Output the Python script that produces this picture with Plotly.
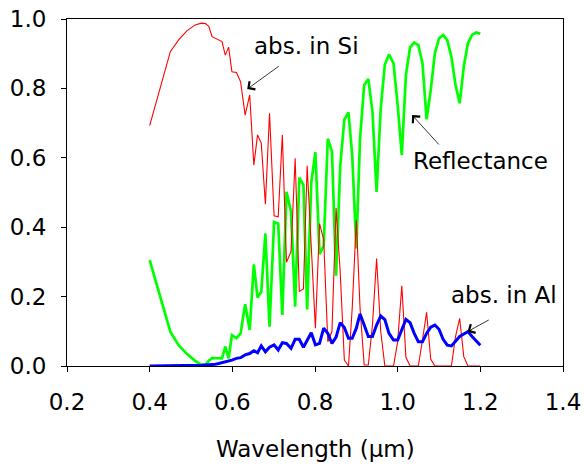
import plotly.graph_objects as go

# Wavelength sampling (µm)
wavelength = [0.400, 0.450, 0.470, 0.490, 0.510, 0.525, 0.535, 0.543, 0.551, 0.559,
              0.567, 0.575, 0.583, 0.591, 0.599, 0.610, 0.620, 0.631, 0.642, 0.652,
              0.661, 0.670, 0.680, 0.690, 0.701, 0.711, 0.721, 0.731, 0.742, 0.752,
              0.762, 0.772, 0.781, 0.791, 0.801, 0.811, 0.821, 0.831, 0.841, 0.851,
              0.861, 0.871, 0.881, 0.890, 0.900, 0.909, 0.919, 0.929, 0.939, 0.949,
              0.959, 0.969, 0.979, 0.990, 1.000, 1.010, 1.020, 1.030, 1.040, 1.050,
              1.060, 1.070, 1.080, 1.090, 1.100, 1.110, 1.120, 1.130, 1.140, 1.150,
              1.160, 1.170, 1.180, 1.190, 1.200]

# Absorption in the Si layer
abs_si = [0.693, 0.906, 0.940, 0.966, 0.983, 0.988, 0.987, 0.979, 0.949, 0.945,
          0.941, 0.935, 0.896, 0.919, 0.848, 0.846, 0.819, 0.723, 0.781, 0.579,
          0.666, 0.642, 0.466, 0.728, 0.433, 0.430, 0.666, 0.299, 0.330, 0.599,
          0.215, 0.222, 0.577, 0.360, 0.109, 0.410, 0.365, 0.070, 0.100, 0.455,
          0.270, 0.017, 0.000, 0.166, 0.420, 0.166, 0.003, 0.003, 0.118, 0.310,
          0.100, 0.000, 0.000, 0.000, 0.070, 0.231, 0.025, 0.000, 0.000, 0.000,
          0.075, 0.155, 0.020, 0.000, 0.000, 0.000, 0.000, 0.000, 0.085, 0.137,
          0.027, 0.000, 0.000, 0.000, 0.000]

# Reflectance
reflectance = [0.305, 0.099, 0.060, 0.035, 0.015, 0.003, 0.003, 0.015, 0.023, 0.022,
               0.022, 0.022, 0.056, 0.022, 0.089, 0.080, 0.094, 0.178, 0.104, 0.293,
               0.197, 0.214, 0.382, 0.113, 0.415, 0.410, 0.147, 0.502, 0.445, 0.171,
               0.543, 0.522, 0.163, 0.529, 0.616, 0.322, 0.346, 0.655, 0.618, 0.260,
               0.576, 0.710, 0.731, 0.608, 0.339, 0.656, 0.810, 0.827, 0.733, 0.502,
               0.742, 0.869, 0.898, 0.872, 0.752, 0.608, 0.839, 0.918, 0.932, 0.925,
               0.872, 0.711, 0.795, 0.901, 0.944, 0.954, 0.939, 0.891, 0.810, 0.757,
               0.863, 0.930, 0.954, 0.961, 0.958]

# Absorption in the Al layer
abs_al = [0.000, 0.000, 0.001, 0.002, 0.002, 0.002, 0.003, 0.003, 0.004, 0.005,
          0.007, 0.009, 0.011, 0.014, 0.017, 0.022, 0.024, 0.032, 0.036, 0.044,
          0.038, 0.058, 0.041, 0.054, 0.061, 0.046, 0.067, 0.065, 0.051, 0.077,
          0.077, 0.054, 0.075, 0.096, 0.061, 0.065, 0.109, 0.094, 0.065, 0.083,
          0.125, 0.111, 0.080, 0.080, 0.109, 0.150, 0.118, 0.085, 0.085, 0.118,
          0.144, 0.134, 0.094, 0.075, 0.075, 0.104, 0.134, 0.125, 0.094, 0.070,
          0.070, 0.094, 0.112, 0.118, 0.106, 0.077, 0.060, 0.058, 0.070, 0.085,
          0.092, 0.099, 0.085, 0.072, 0.060]

x_ticks = [0.2, 0.4, 0.6, 0.8, 1.0, 1.2, 1.4]
y_ticks = [0.0, 0.2, 0.4, 0.6, 0.8, 1.0]

FONT = "DejaVu Sans"
FS = 23

fig = go.Figure()
fig.add_trace(go.Scatter(x=wavelength, y=reflectance, mode="lines",
                         line=dict(color="#00ff00", width=2.7), name="Reflectance"))
fig.add_trace(go.Scatter(x=wavelength, y=abs_si, mode="lines",
                         line=dict(color="#ff0000", width=1.1), name="abs. in Si"))
fig.add_trace(go.Scatter(x=wavelength, y=abs_al, mode="lines",
                         line=dict(color="#0000ff", width=3), name="abs. in Al"))

# Curve labels
labels = [
    dict(text="abs. in Si", x=0.779, y=0.922),
    dict(text="Reflectance", x=1.200, y=0.591),
    dict(text="abs. in Al", x=1.258, y=0.205),
]
for lab in labels:
    fig.add_annotation(x=lab["x"], y=lab["y"], xref="x", yref="y", text=lab["text"],
                       showarrow=False, font=dict(family=FONT, size=FS, color="black"),
                       xanchor="center", yanchor="middle")

# Pointer arrows: (tip_x, tip_y, tail_x, tail_y)
arrows = [
    (0.636, 0.798, 0.716, 0.867),
    (1.035, 0.723, 1.103, 0.634),
    (1.169, 0.099, 1.224, 0.135),
]
for tx, ty, sx, sy in arrows:
    fig.add_annotation(x=tx, y=ty, ax=sx, ay=sy, xref="x", yref="y", axref="x", ayref="y",
                       text="", showarrow=True, arrowhead=4, arrowsize=2.4,
                       arrowwidth=0.8, arrowcolor="black")

# x-axis title, placed below the tick labels
fig.add_annotation(x=0.5, y=-0.24, xref="paper", yref="paper", text="Wavelength (µm)",
                   showarrow=False, font=dict(family=FONT, size=FS, color="black"),
                   xanchor="center", yanchor="middle")

fig.update_layout(
    width=584, height=466,
    margin=dict(l=67, r=21, t=19, b=100),
    paper_bgcolor="white", plot_bgcolor="white",
    showlegend=False,
    font=dict(family=FONT, size=FS, color="black"),
)
fig.update_xaxes(
    range=[0.2, 1.4], tickvals=x_ticks, ticktext=[f"{v:.1f}" for v in x_ticks],
    showline=True, linecolor="black", linewidth=1, mirror=True,
    ticks="outside", ticklen=5, tickcolor="black", showgrid=False, zeroline=False,
    ticklabelstandoff=10, automargin=False,
)
fig.update_yaxes(
    range=[0, 1], tickvals=y_ticks, ticktext=[f"{v:.1f}" for v in y_ticks],
    showline=True, linecolor="black", linewidth=1, mirror=True,
    ticks="outside", ticklen=5, tickcolor="black", showgrid=False, zeroline=False,
    ticklabelstandoff=10, automargin=False,
)

fig.write_html("out.html")
